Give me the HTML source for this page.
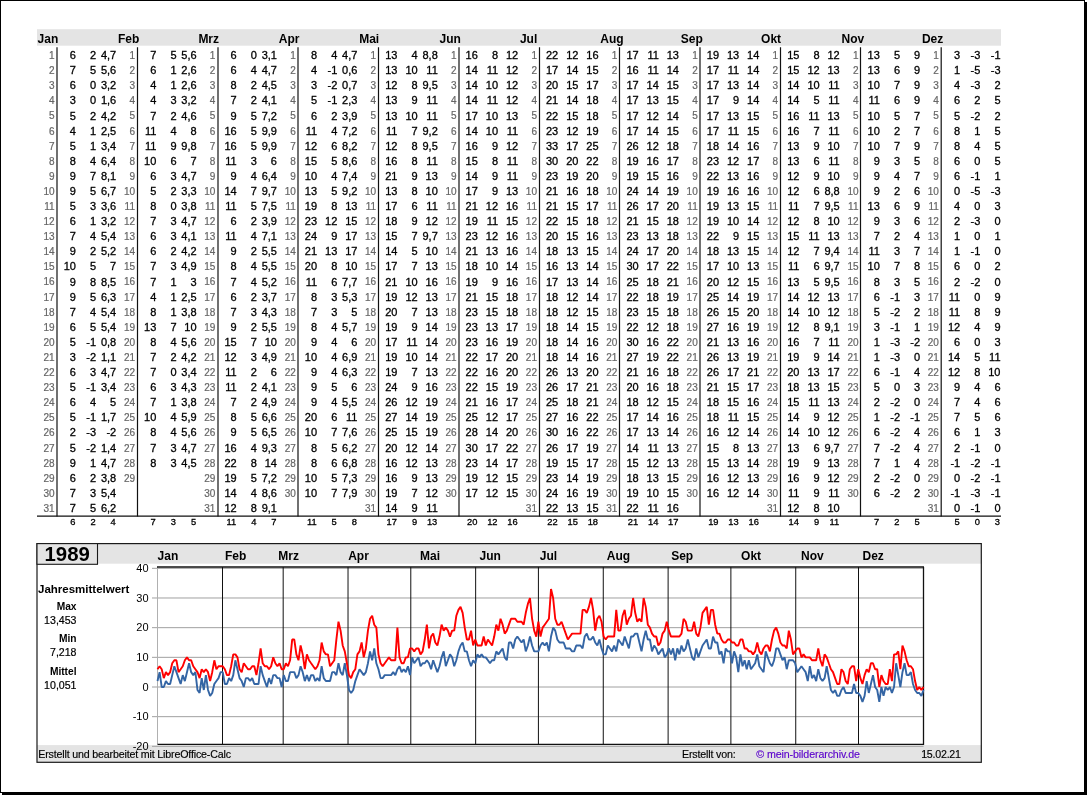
<!DOCTYPE html>
<html><head><meta charset="utf-8"><title>1989</title>
<style>
html,body{margin:0;padding:0;background:#fff;}
body{width:1087px;height:795px;overflow:hidden;position:relative;font-family:"Liberation Sans", Arial, sans-serif;color:#000;}
#frame{position:absolute;left:0;top:0;width:1085px;height:793px;box-sizing:border-box;border:1px solid #000;box-shadow:2px 2px 0 #000;background:#fff;}
.ov{position:absolute;left:0;top:0;}
.t{position:absolute;white-space:nowrap;}
.c{position:absolute;white-space:nowrap;text-align:right;line-height:15.09px;-webkit-text-stroke:0.3px #000;}
.d{-webkit-text-stroke:0.2px #666;}
</style></head><body>
<div id="frame"></div>
<svg class="ov" width="1087" height="795" viewBox="0 0 1087 795"><rect x="37.00" y="29.20" width="964.00" height="16.50" fill="#e4e4e4"/><line x1="57.00" y1="47.30" x2="57.00" y2="516.50" stroke="#111" stroke-width="1.2"/><line x1="137.50" y1="47.30" x2="137.50" y2="516.50" stroke="#111" stroke-width="1.2"/><line x1="218.00" y1="47.30" x2="218.00" y2="516.50" stroke="#111" stroke-width="1.2"/><line x1="298.00" y1="47.30" x2="298.00" y2="516.50" stroke="#111" stroke-width="1.2"/><line x1="378.50" y1="47.30" x2="378.50" y2="516.50" stroke="#111" stroke-width="1.2"/><line x1="459.00" y1="47.30" x2="459.00" y2="516.50" stroke="#111" stroke-width="1.2"/><line x1="539.50" y1="47.30" x2="539.50" y2="516.50" stroke="#111" stroke-width="1.2"/><line x1="619.50" y1="47.30" x2="619.50" y2="516.50" stroke="#111" stroke-width="1.2"/><line x1="700.00" y1="47.30" x2="700.00" y2="516.50" stroke="#111" stroke-width="1.2"/><line x1="780.50" y1="47.30" x2="780.50" y2="516.50" stroke="#111" stroke-width="1.2"/><line x1="860.50" y1="47.30" x2="860.50" y2="516.50" stroke="#111" stroke-width="1.2"/><line x1="941.20" y1="47.30" x2="941.20" y2="516.50" stroke="#111" stroke-width="1.2"/><line x1="37.00" y1="516.00" x2="1001.00" y2="516.00" stroke="#111" stroke-width="1.25"/><rect x="37.00" y="543.60" width="944.30" height="218.70" fill="#fff"/><rect x="37.00" y="543.60" width="944.30" height="20.10" fill="#e4e4e4"/><rect x="37.00" y="745.10" width="944.30" height="17.20" fill="#e4e4e4"/><line x1="152.00" y1="568.32" x2="923.50" y2="568.32" stroke="#a0a0a0" stroke-width="1.0"/><line x1="152.00" y1="597.99" x2="923.50" y2="597.99" stroke="#a0a0a0" stroke-width="1.0"/><line x1="152.00" y1="627.66" x2="923.50" y2="627.66" stroke="#a0a0a0" stroke-width="1.0"/><line x1="152.00" y1="657.33" x2="923.50" y2="657.33" stroke="#a0a0a0" stroke-width="1.0"/><line x1="152.00" y1="687.00" x2="923.50" y2="687.00" stroke="#a0a0a0" stroke-width="1.0"/><line x1="152.00" y1="716.67" x2="923.50" y2="716.67" stroke="#a0a0a0" stroke-width="1.0"/><line x1="152.00" y1="746.34" x2="923.50" y2="746.34" stroke="#a0a0a0" stroke-width="1.0"/><line x1="222.51" y1="567.00" x2="222.51" y2="744.30" stroke="#111" stroke-width="1"/><line x1="283.18" y1="567.00" x2="283.18" y2="744.30" stroke="#111" stroke-width="1"/><line x1="348.03" y1="567.00" x2="348.03" y2="744.30" stroke="#111" stroke-width="1"/><line x1="410.79" y1="567.00" x2="410.79" y2="744.30" stroke="#111" stroke-width="1"/><line x1="475.65" y1="567.00" x2="475.65" y2="744.30" stroke="#111" stroke-width="1"/><line x1="538.41" y1="567.00" x2="538.41" y2="744.30" stroke="#111" stroke-width="1"/><line x1="603.27" y1="567.00" x2="603.27" y2="744.30" stroke="#111" stroke-width="1"/><line x1="668.12" y1="567.00" x2="668.12" y2="744.30" stroke="#111" stroke-width="1"/><line x1="730.89" y1="567.00" x2="730.89" y2="744.30" stroke="#111" stroke-width="1"/><line x1="795.74" y1="567.00" x2="795.74" y2="744.30" stroke="#111" stroke-width="1"/><line x1="858.50" y1="567.00" x2="858.50" y2="744.30" stroke="#111" stroke-width="1"/><line x1="157.50" y1="567.00" x2="157.50" y2="744.30" stroke="#b0b0b0" stroke-width="1"/><line x1="157.00" y1="567.00" x2="924.00" y2="567.00" stroke="#111" stroke-width="1.3"/><line x1="923.50" y1="567.00" x2="923.50" y2="744.90" stroke="#111" stroke-width="1.3"/><line x1="157.50" y1="744.30" x2="924.00" y2="744.30" stroke="#111" stroke-width="1.3"/><polyline points="157.50,681.07 159.60,672.16 161.71,687.00 163.81,687.00 165.92,681.07 168.02,684.03 170.13,684.03 172.23,675.13 174.34,666.23 176.44,672.16 178.54,678.10 180.65,684.03 182.75,675.13 184.86,681.07 186.96,672.16 189.07,663.26 191.17,672.16 193.27,675.13 195.38,672.16 197.48,689.97 199.59,692.93 201.69,678.10 203.80,689.97 205.90,675.13 208.01,689.97 210.11,695.90 212.21,692.93 214.32,684.03 216.42,681.07 218.53,678.10 220.63,672.16 222.74,672.16 224.84,684.03 226.95,684.03 229.05,678.10 231.15,681.07 233.26,675.13 235.36,660.30 237.47,669.20 239.57,678.10 241.68,681.07 243.78,687.00 245.88,678.10 247.99,678.10 250.09,681.07 252.20,678.10 254.30,684.03 256.41,684.03 258.51,684.03 260.62,666.23 262.72,675.13 264.82,681.07 266.93,687.00 269.03,678.10 271.14,684.03 273.24,675.13 275.35,675.13 277.45,678.10 279.55,678.10 281.66,687.00 283.76,675.13 285.87,681.07 287.97,681.07 290.08,672.16 292.18,672.16 294.29,672.16 296.39,678.10 298.49,675.13 300.60,666.23 302.70,672.16 304.81,681.07 306.91,675.13 309.02,681.07 311.12,675.13 313.23,675.13 315.33,681.07 317.43,678.10 319.54,681.07 321.64,666.23 323.75,678.10 325.85,681.07 327.96,681.07 330.06,681.07 332.16,672.16 334.27,672.16 336.37,675.13 338.48,663.26 340.58,672.16 342.69,675.13 344.79,663.26 346.90,675.13 349.00,689.97 351.10,692.93 353.21,689.97 355.31,681.07 357.42,675.13 359.52,669.20 361.63,672.16 363.73,675.13 365.84,672.16 367.94,663.26 370.04,651.40 372.15,660.30 374.25,648.43 376.36,663.26 378.46,669.20 380.57,678.10 382.67,678.10 384.77,675.13 386.88,675.13 388.98,675.13 391.09,675.13 393.19,672.16 395.30,675.13 397.40,669.20 399.51,666.23 401.61,672.16 403.71,669.20 405.82,672.16 407.92,666.23 410.03,675.13 412.13,657.33 414.24,663.26 416.34,660.30 418.45,657.33 420.55,666.23 422.65,663.26 424.76,663.26 426.86,660.30 428.97,663.26 431.07,669.20 433.18,660.30 435.28,666.23 437.38,672.16 439.49,666.23 441.59,657.33 443.70,651.40 445.80,666.23 447.91,660.30 450.01,654.36 452.12,657.33 454.22,666.23 456.32,660.30 458.43,651.40 460.53,645.46 462.64,642.50 464.74,651.40 466.85,651.40 468.95,660.30 471.05,666.23 473.16,660.30 475.26,663.26 477.37,654.36 479.47,657.33 481.58,654.36 483.68,657.33 485.79,657.33 487.89,660.30 489.99,663.26 492.10,660.30 494.20,660.30 496.31,651.40 498.41,654.36 500.52,651.40 502.62,648.43 504.73,657.33 506.83,660.30 508.93,642.50 511.04,642.50 513.14,648.43 515.25,639.53 517.35,636.56 519.46,639.53 521.56,642.50 523.66,639.53 525.77,651.40 527.87,645.46 529.98,636.56 532.08,645.46 534.19,651.40 536.29,651.40 538.40,651.40 540.50,645.46 542.60,642.50 544.71,645.46 546.81,642.50 548.92,651.40 551.02,636.56 553.13,627.66 555.23,630.63 557.34,639.53 559.44,642.50 561.54,642.50 563.65,642.50 565.75,648.43 567.86,648.43 569.96,648.43 572.07,651.40 574.17,651.40 576.27,645.46 578.38,645.46 580.48,645.46 582.59,648.43 584.69,636.56 586.80,633.59 588.90,639.53 591.01,639.53 593.11,636.56 595.21,642.50 597.32,645.46 599.42,639.53 601.53,648.43 603.63,654.36 605.74,654.36 607.84,645.46 609.95,648.43 612.05,651.40 614.15,645.46 616.26,651.40 618.36,639.53 620.47,642.50 622.57,645.46 624.68,636.56 626.78,642.50 628.88,648.43 630.99,636.56 633.09,636.56 635.20,633.59 637.30,633.59 639.41,642.50 641.51,651.40 643.62,639.53 645.72,630.63 647.82,639.53 649.93,639.53 652.03,651.40 654.14,645.46 656.24,648.43 658.35,654.36 660.45,651.40 662.55,648.43 664.66,657.33 666.76,654.36 668.87,648.43 670.97,654.36 673.08,648.43 675.18,660.30 677.29,648.43 679.39,654.36 681.49,645.46 683.60,651.40 685.70,648.43 687.81,639.53 689.91,648.43 692.02,657.33 694.12,660.30 696.23,648.43 698.33,657.33 700.43,651.40 702.54,645.46 704.64,642.50 706.75,639.53 708.85,648.43 710.96,648.43 713.06,636.56 715.16,642.50 717.27,642.50 719.37,654.36 721.48,651.40 723.58,663.26 725.69,648.43 727.79,651.40 729.90,651.40 732.00,663.26 734.10,651.40 736.21,657.33 738.31,672.16 740.42,654.36 742.52,666.23 744.63,660.30 746.73,669.20 748.84,660.30 750.94,669.20 753.04,666.23 755.15,663.26 757.25,654.36 759.36,666.23 761.46,669.20 763.57,672.16 765.67,651.40 767.77,657.33 769.88,663.26 771.98,666.23 774.09,660.30 776.19,648.43 778.30,648.43 780.40,654.36 782.51,660.30 784.61,657.33 786.71,669.20 788.82,660.30 790.92,660.30 793.03,660.30 795.13,663.26 797.24,672.16 799.34,669.20 801.45,666.23 803.55,669.20 805.65,672.16 807.76,681.07 809.86,666.23 811.97,678.10 814.07,675.13 816.18,681.07 818.28,669.20 820.38,678.10 822.49,681.07 824.59,678.10 826.70,666.23 828.80,678.10 830.91,689.97 833.01,692.93 835.12,689.97 837.22,695.90 839.32,695.90 841.43,689.97 843.53,687.00 845.64,692.93 847.74,692.93 849.85,692.93 851.95,692.93 854.05,684.03 856.16,692.93 858.26,692.93 860.37,695.90 862.47,701.84 864.58,695.90 866.68,681.07 868.79,692.93 870.89,684.03 872.99,675.13 875.10,687.00 877.20,689.97 879.31,701.84 881.41,687.00 883.52,695.90 885.62,687.00 887.73,689.97 889.83,687.00 891.93,692.93 894.04,687.00 896.14,663.26 898.25,675.13 900.35,687.00 902.46,672.16 904.56,663.26 906.66,675.13 908.77,675.13 910.87,672.16 912.98,684.03 915.08,689.97 917.19,692.93 919.29,692.93 921.40,695.90 923.50,689.97" fill="none" stroke="#3465a4" stroke-width="1.9" stroke-linejoin="bevel"/><polyline points="157.50,669.20 159.60,666.23 161.71,669.20 163.81,678.10 165.92,672.16 168.02,675.13 170.13,672.16 172.23,663.26 174.34,660.30 176.44,660.30 178.54,672.16 180.65,669.20 182.75,666.23 184.86,660.30 186.96,657.33 189.07,660.30 191.17,660.30 193.27,666.23 195.38,669.20 197.48,672.16 199.59,678.10 201.69,669.20 203.80,672.16 205.90,669.20 208.01,672.16 210.11,681.07 212.21,672.16 214.32,660.30 216.42,669.20 218.53,666.23 220.63,666.23 222.74,666.23 224.84,669.20 226.95,675.13 229.05,675.13 231.15,666.23 233.26,654.36 235.36,654.36 237.47,657.33 239.57,669.20 241.68,672.16 243.78,663.26 245.88,666.23 247.99,669.20 250.09,669.20 252.20,666.23 254.30,666.23 256.41,675.13 258.51,663.26 260.62,648.43 262.72,663.26 264.82,666.23 266.93,666.23 269.03,669.20 271.14,666.23 273.24,657.33 275.35,663.26 277.45,666.23 279.55,663.26 281.66,669.20 283.76,669.20 285.87,663.26 287.97,666.23 290.08,660.30 292.18,639.53 294.29,639.53 296.39,654.36 298.49,660.30 300.60,645.46 302.70,654.36 304.81,669.20 306.91,654.36 309.02,660.30 311.12,663.26 313.23,666.23 315.33,669.20 317.43,666.23 319.54,660.30 321.64,642.50 323.75,651.40 325.85,654.36 327.96,654.36 330.06,666.23 332.16,663.26 334.27,660.30 336.37,639.53 338.48,621.73 340.58,630.63 342.69,645.46 344.79,651.40 346.90,663.26 349.00,675.13 351.10,678.10 353.21,672.16 355.31,669.20 357.42,654.36 359.52,651.40 361.63,642.50 363.73,657.33 365.84,648.43 367.94,630.63 370.04,618.76 372.15,615.79 374.25,624.69 376.36,627.66 378.46,654.36 380.57,663.26 382.67,666.23 384.77,663.26 386.88,660.30 388.98,657.33 391.09,660.30 393.19,660.30 395.30,660.30 397.40,627.66 399.51,657.33 401.61,663.26 403.71,663.26 405.82,657.33 407.92,657.33 410.03,648.43 412.13,648.43 414.24,651.40 416.34,648.43 418.45,648.43 420.55,654.36 422.65,651.40 424.76,639.53 426.86,624.69 428.97,648.43 431.07,636.56 433.18,633.59 435.28,642.50 437.38,645.46 439.49,636.56 441.59,624.69 443.70,630.63 445.80,627.66 447.91,630.63 450.01,636.56 452.12,630.63 454.22,630.63 456.32,615.79 458.43,609.86 460.53,606.89 462.64,612.83 464.74,627.66 466.85,639.53 468.95,639.53 471.05,630.63 473.16,645.46 475.26,639.53 477.37,645.46 479.47,645.46 481.58,645.46 483.68,636.56 485.79,645.46 487.89,639.53 489.99,642.50 492.10,645.46 494.20,636.56 496.31,624.69 498.41,630.63 500.52,618.76 502.62,624.69 504.73,633.59 506.83,630.63 508.93,624.69 511.04,618.76 513.14,618.76 515.25,618.76 517.35,621.73 519.46,621.73 521.56,621.73 523.66,624.69 525.77,612.83 527.87,603.92 529.98,597.99 532.08,618.76 534.19,630.63 536.29,636.56 538.40,621.73 540.50,636.56 542.60,627.66 544.71,624.69 546.81,621.73 548.92,618.76 551.02,589.09 553.13,597.99 555.23,618.76 557.34,624.69 559.44,624.69 561.54,621.73 563.65,627.66 565.75,633.59 567.86,639.53 569.96,636.56 572.07,633.59 574.17,633.59 576.27,633.59 578.38,633.59 580.48,633.59 582.59,609.86 584.69,609.86 586.80,612.83 588.90,606.89 591.01,597.99 593.11,609.86 595.21,630.63 597.32,618.76 599.42,615.79 601.53,621.73 603.63,636.56 605.74,639.53 607.84,636.56 609.95,636.56 612.05,636.56 614.15,636.56 616.26,609.86 618.36,630.63 620.47,630.63 622.57,615.79 624.68,609.86 626.78,624.69 628.88,618.76 630.99,615.79 633.09,597.99 635.20,612.83 637.30,621.73 639.41,618.76 641.51,621.73 643.62,597.99 645.72,606.89 647.82,624.69 649.93,627.66 652.03,633.59 654.14,636.56 656.24,636.56 658.35,645.46 660.45,642.50 662.55,633.59 664.66,630.63 666.76,621.73 668.87,630.63 670.97,636.56 673.08,636.56 675.18,636.56 677.29,636.56 679.39,636.56 681.49,633.59 683.60,618.76 685.70,621.73 687.81,630.63 689.91,630.63 692.02,630.63 694.12,621.73 696.23,633.59 698.33,636.56 700.43,627.66 702.54,612.83 704.64,609.86 706.75,606.89 708.85,624.69 710.96,609.86 713.06,609.86 715.16,624.69 717.27,633.59 719.37,633.59 721.48,639.53 723.58,642.50 725.69,642.50 727.79,639.53 729.90,639.53 732.00,642.50 734.10,642.50 736.21,645.46 738.31,645.46 740.42,639.53 742.52,639.53 744.63,648.43 746.73,648.43 748.84,651.40 750.94,651.40 753.04,654.36 755.15,651.40 757.25,642.50 759.36,651.40 761.46,654.36 763.57,648.43 765.67,645.46 767.77,645.46 769.88,651.40 771.98,639.53 774.09,630.63 776.19,627.66 778.30,633.59 780.40,642.50 782.51,645.46 784.61,645.46 786.71,648.43 788.82,630.63 790.92,639.53 793.03,654.36 795.13,651.40 797.24,648.43 799.34,648.43 801.45,657.33 803.55,654.36 805.65,657.33 807.76,657.33 809.86,657.33 811.97,660.30 814.07,660.30 816.18,660.30 818.28,648.43 820.38,660.30 822.49,666.23 824.59,654.36 826.70,657.33 828.80,663.26 830.91,669.20 833.01,672.16 835.12,678.10 837.22,684.03 839.32,684.03 841.43,669.20 843.53,672.16 845.64,681.07 847.74,684.03 849.85,669.20 851.95,666.23 854.05,666.23 856.16,681.07 858.26,669.20 860.37,678.10 862.47,684.03 864.58,675.13 866.68,669.20 868.79,672.16 870.89,663.26 872.99,663.26 875.10,669.20 877.20,669.20 879.31,687.00 881.41,675.13 883.52,681.07 885.62,684.03 887.73,684.03 889.83,669.20 891.93,681.07 894.04,654.36 896.14,654.36 898.25,651.40 900.35,669.20 902.46,645.46 904.56,651.40 906.66,660.30 908.77,666.23 910.87,666.23 912.98,669.20 915.08,681.07 917.19,689.97 919.29,687.00 921.40,689.97 923.50,687.00" fill="none" stroke="#ff0000" stroke-width="1.9" stroke-linejoin="bevel"/><rect x="37.00" y="543.60" width="944.30" height="218.70" fill="none" stroke="#1a1a1a" stroke-width="1.2"/><rect x="37.00" y="543.60" width="60.50" height="20.70" fill="#e4e4e4" stroke="#1a1a1a" stroke-width="1.1"/></svg>
<div class="t" style="top:32.44px;left:37.60px;font-size:12px;line-height:14.4px;font-weight:bold">Jan</div><div class="c d" style="top:48.09px;right:1032.40px;font-size:10px;color:#666">1<br>2<br>3<br>4<br>5<br>6<br>7<br>8<br>9<br>10<br>11<br>12<br>13<br>14<br>15<br>16<br>17<br>18<br>19<br>20<br>21<br>22<br>23<br>24<br>25<br>26<br>27<br>28<br>29<br>30<br>31</div><div class="c" style="top:48.14px;right:1011.10px;font-size:11px">6<br>7<br>6<br>3<br>5<br>4<br>5<br>8<br>9<br>9<br>5<br>6<br>7<br>9<br>10<br>9<br>9<br>7<br>6<br>5<br>3<br>6<br>5<br>6<br>5<br>2<br>5<br>9<br>6<br>7<br>7</div><div class="c" style="top:48.14px;right:990.90px;font-size:11px">2<br>5<br>0<br>0<br>2<br>1<br>1<br>4<br>7<br>5<br>3<br>1<br>4<br>2<br>5<br>8<br>5<br>4<br>5<br>-1<br>-2<br>3<br>-1<br>4<br>-1<br>-3<br>-2<br>1<br>2<br>3<br>5</div><div class="c" style="top:48.14px;right:970.80px;font-size:11px">4,7<br>5,6<br>3,2<br>1,6<br>4,2<br>2,5<br>3,4<br>6,4<br>8,1<br>6,7<br>3,6<br>3,2<br>5,4<br>5,2<br>7<br>8,5<br>6,3<br>5,4<br>5,4<br>0,8<br>1,1<br>4,7<br>3,4<br>5<br>1,7<br>-2<br>1,4<br>4,7<br>3,8<br>5,4<br>6,2</div><div class="t" style="top:517.37px;right:1011.60px;font-size:9.33px;line-height:11.196px;-webkit-text-stroke:0.3px #000">6</div><div class="t" style="top:517.37px;right:991.40px;font-size:9.33px;line-height:11.196px;-webkit-text-stroke:0.3px #000">2</div><div class="t" style="top:517.37px;right:971.30px;font-size:9.33px;line-height:11.196px;-webkit-text-stroke:0.3px #000">4</div><div class="t" style="top:32.44px;left:117.99px;font-size:12px;line-height:14.4px;font-weight:bold">Feb</div><div class="c d" style="top:48.09px;right:952.01px;font-size:10px;color:#666">1<br>2<br>3<br>4<br>5<br>6<br>7<br>8<br>9<br>10<br>11<br>12<br>13<br>14<br>15<br>16<br>17<br>18<br>19<br>20<br>21<br>22<br>23<br>24<br>25<br>26<br>27<br>28<br>29</div><div class="c" style="top:48.14px;right:930.71px;font-size:11px">7<br>6<br>4<br>4<br>7<br>11<br>11<br>10<br>6<br>5<br>8<br>7<br>6<br>6<br>7<br>7<br>4<br>8<br>13<br>8<br>7<br>7<br>6<br>7<br>10<br>8<br>7<br>8</div><div class="c" style="top:48.14px;right:910.51px;font-size:11px">5<br>1<br>1<br>3<br>2<br>4<br>9<br>6<br>3<br>2<br>0<br>3<br>3<br>2<br>3<br>1<br>1<br>1<br>7<br>4<br>2<br>0<br>3<br>1<br>4<br>4<br>3<br>3</div><div class="c" style="top:48.14px;right:890.41px;font-size:11px">5,6<br>2,6<br>2,6<br>3,2<br>4,6<br>8<br>9,8<br>7<br>4,7<br>3,3<br>3,8<br>4,7<br>4,1<br>4,2<br>4,9<br>3<br>2,5<br>3,8<br>10<br>5,6<br>4,2<br>3,4<br>4,3<br>3,8<br>5,9<br>5,6<br>4,7<br>4,5</div><div class="t" style="top:517.37px;right:931.21px;font-size:9.33px;line-height:11.196px;-webkit-text-stroke:0.3px #000">7</div><div class="t" style="top:517.37px;right:911.01px;font-size:9.33px;line-height:11.196px;-webkit-text-stroke:0.3px #000">3</div><div class="t" style="top:517.37px;right:890.91px;font-size:9.33px;line-height:11.196px;-webkit-text-stroke:0.3px #000">5</div><div class="t" style="top:32.44px;left:198.38px;font-size:12px;line-height:14.4px;font-weight:bold">Mrz</div><div class="c d" style="top:48.09px;right:871.62px;font-size:10px;color:#666">1<br>2<br>3<br>4<br>5<br>6<br>7<br>8<br>9<br>10<br>11<br>12<br>13<br>14<br>15<br>16<br>17<br>18<br>19<br>20<br>21<br>22<br>23<br>24<br>25<br>26<br>27<br>28<br>29<br>30<br>31</div><div class="c" style="top:48.14px;right:850.32px;font-size:11px">6<br>6<br>8<br>7<br>9<br>16<br>16<br>11<br>9<br>14<br>11<br>6<br>11<br>9<br>8<br>7<br>6<br>7<br>9<br>15<br>12<br>11<br>11<br>7<br>8<br>9<br>16<br>22<br>19<br>14<br>12</div><div class="c" style="top:48.14px;right:830.12px;font-size:11px">0<br>4<br>2<br>2<br>5<br>5<br>5<br>3<br>4<br>7<br>5<br>2<br>4<br>2<br>4<br>4<br>2<br>3<br>2<br>7<br>3<br>2<br>2<br>2<br>5<br>5<br>4<br>8<br>5<br>4<br>8</div><div class="c" style="top:48.14px;right:810.02px;font-size:11px">3,1<br>4,7<br>4,5<br>4,1<br>7,2<br>9,9<br>9,9<br>6<br>6,4<br>9,7<br>7,5<br>3,9<br>7,1<br>5,5<br>5,5<br>5,2<br>3,7<br>4,3<br>5,5<br>10<br>4,9<br>6<br>4,1<br>4,9<br>6,6<br>6,5<br>9,3<br>14<br>7,2<br>8,6<br>9,1</div><div class="t" style="top:517.37px;right:850.82px;font-size:9.33px;line-height:11.196px;-webkit-text-stroke:0.3px #000">11</div><div class="t" style="top:517.37px;right:830.62px;font-size:9.33px;line-height:11.196px;-webkit-text-stroke:0.3px #000">4</div><div class="t" style="top:517.37px;right:810.52px;font-size:9.33px;line-height:11.196px;-webkit-text-stroke:0.3px #000">7</div><div class="t" style="top:32.44px;left:278.77px;font-size:12px;line-height:14.4px;font-weight:bold">Apr</div><div class="c d" style="top:48.09px;right:791.23px;font-size:10px;color:#666">1<br>2<br>3<br>4<br>5<br>6<br>7<br>8<br>9<br>10<br>11<br>12<br>13<br>14<br>15<br>16<br>17<br>18<br>19<br>20<br>21<br>22<br>23<br>24<br>25<br>26<br>27<br>28<br>29<br>30</div><div class="c" style="top:48.14px;right:769.93px;font-size:11px">8<br>4<br>3<br>5<br>6<br>11<br>12<br>15<br>10<br>13<br>19<br>23<br>24<br>21<br>20<br>11<br>8<br>7<br>8<br>9<br>10<br>9<br>9<br>9<br>20<br>10<br>8<br>8<br>10<br>10</div><div class="c" style="top:48.14px;right:749.73px;font-size:11px">4<br>-1<br>-2<br>-1<br>2<br>4<br>6<br>5<br>4<br>5<br>8<br>12<br>9<br>13<br>8<br>6<br>3<br>3<br>4<br>4<br>4<br>4<br>5<br>4<br>6<br>7<br>5<br>6<br>5<br>7</div><div class="c" style="top:48.14px;right:729.63px;font-size:11px">4,7<br>0,6<br>0,7<br>2,3<br>3,9<br>7,2<br>8,2<br>8,6<br>7,4<br>9,2<br>13<br>15<br>17<br>17<br>10<br>7,7<br>5,3<br>5<br>5,7<br>6<br>6,9<br>6,3<br>6<br>5,5<br>11<br>7,6<br>6,2<br>6,8<br>7,3<br>7,9</div><div class="t" style="top:517.37px;right:770.43px;font-size:9.33px;line-height:11.196px;-webkit-text-stroke:0.3px #000">11</div><div class="t" style="top:517.37px;right:750.23px;font-size:9.33px;line-height:11.196px;-webkit-text-stroke:0.3px #000">5</div><div class="t" style="top:517.37px;right:730.13px;font-size:9.33px;line-height:11.196px;-webkit-text-stroke:0.3px #000">8</div><div class="t" style="top:32.44px;left:359.16px;font-size:12px;line-height:14.4px;font-weight:bold">Mai</div><div class="c d" style="top:48.09px;right:710.84px;font-size:10px;color:#666">1<br>2<br>3<br>4<br>5<br>6<br>7<br>8<br>9<br>10<br>11<br>12<br>13<br>14<br>15<br>16<br>17<br>18<br>19<br>20<br>21<br>22<br>23<br>24<br>25<br>26<br>27<br>28<br>29<br>30<br>31</div><div class="c" style="top:48.14px;right:689.54px;font-size:11px">13<br>13<br>12<br>13<br>13<br>11<br>12<br>16<br>21<br>13<br>17<br>18<br>15<br>14<br>17<br>21<br>19<br>20<br>19<br>17<br>19<br>19<br>24<br>26<br>27<br>25<br>20<br>16<br>16<br>19<br>14</div><div class="c" style="top:48.14px;right:669.34px;font-size:11px">4<br>10<br>8<br>9<br>10<br>7<br>8<br>8<br>9<br>8<br>6<br>9<br>7<br>5<br>7<br>10<br>12<br>7<br>9<br>11<br>10<br>7<br>9<br>12<br>14<br>15<br>12<br>12<br>9<br>7<br>9</div><div class="c" style="top:48.14px;right:649.24px;font-size:11px">8,8<br>11<br>9,5<br>11<br>11<br>9,2<br>9,5<br>11<br>13<br>10<br>11<br>12<br>9,7<br>10<br>13<br>16<br>13<br>13<br>14<br>14<br>14<br>13<br>16<br>19<br>19<br>19<br>14<br>13<br>13<br>12<br>11</div><div class="t" style="top:517.37px;right:690.04px;font-size:9.33px;line-height:11.196px;-webkit-text-stroke:0.3px #000">17</div><div class="t" style="top:517.37px;right:669.84px;font-size:9.33px;line-height:11.196px;-webkit-text-stroke:0.3px #000">9</div><div class="t" style="top:517.37px;right:649.74px;font-size:9.33px;line-height:11.196px;-webkit-text-stroke:0.3px #000">13</div><div class="t" style="top:32.44px;left:439.55px;font-size:12px;line-height:14.4px;font-weight:bold">Jun</div><div class="c d" style="top:48.09px;right:630.45px;font-size:10px;color:#666">1<br>2<br>3<br>4<br>5<br>6<br>7<br>8<br>9<br>10<br>11<br>12<br>13<br>14<br>15<br>16<br>17<br>18<br>19<br>20<br>21<br>22<br>23<br>24<br>25<br>26<br>27<br>28<br>29<br>30</div><div class="c" style="top:48.14px;right:609.15px;font-size:11px">16<br>14<br>14<br>14<br>17<br>14<br>16<br>15<br>14<br>17<br>21<br>19<br>23<br>21<br>18<br>19<br>21<br>23<br>23<br>23<br>22<br>22<br>22<br>21<br>25<br>28<br>30<br>23<br>19<br>17</div><div class="c" style="top:48.14px;right:588.95px;font-size:11px">8<br>11<br>10<br>11<br>10<br>10<br>9<br>8<br>9<br>9<br>12<br>11<br>12<br>13<br>10<br>9<br>15<br>15<br>13<br>16<br>17<br>16<br>15<br>16<br>12<br>14<br>17<br>14<br>12<br>12</div><div class="c" style="top:48.14px;right:568.85px;font-size:11px">12<br>12<br>12<br>12<br>13<br>11<br>12<br>11<br>11<br>13<br>16<br>15<br>16<br>16<br>14<br>16<br>18<br>18<br>17<br>19<br>20<br>20<br>19<br>17<br>17<br>20<br>22<br>17<br>15<br>15</div><div class="t" style="top:517.37px;right:609.65px;font-size:9.33px;line-height:11.196px;-webkit-text-stroke:0.3px #000">20</div><div class="t" style="top:517.37px;right:589.45px;font-size:9.33px;line-height:11.196px;-webkit-text-stroke:0.3px #000">12</div><div class="t" style="top:517.37px;right:569.35px;font-size:9.33px;line-height:11.196px;-webkit-text-stroke:0.3px #000">16</div><div class="t" style="top:32.44px;left:519.94px;font-size:12px;line-height:14.4px;font-weight:bold">Jul</div><div class="c d" style="top:48.09px;right:550.06px;font-size:10px;color:#666">1<br>2<br>3<br>4<br>5<br>6<br>7<br>8<br>9<br>10<br>11<br>12<br>13<br>14<br>15<br>16<br>17<br>18<br>19<br>20<br>21<br>22<br>23<br>24<br>25<br>26<br>27<br>28<br>29<br>30<br>31</div><div class="c" style="top:48.14px;right:528.76px;font-size:11px">22<br>17<br>20<br>21<br>22<br>23<br>33<br>30<br>23<br>21<br>21<br>22<br>20<br>18<br>16<br>17<br>18<br>18<br>18<br>18<br>18<br>26<br>26<br>25<br>27<br>30<br>26<br>19<br>23<br>24<br>22</div><div class="c" style="top:48.14px;right:508.56px;font-size:11px">12<br>14<br>15<br>14<br>15<br>12<br>17<br>20<br>19<br>16<br>15<br>15<br>15<br>13<br>13<br>13<br>12<br>12<br>14<br>14<br>14<br>13<br>17<br>18<br>16<br>16<br>17<br>15<br>14<br>16<br>13</div><div class="c" style="top:48.14px;right:488.46px;font-size:11px">16<br>15<br>17<br>18<br>18<br>19<br>25<br>22<br>20<br>18<br>17<br>18<br>16<br>15<br>14<br>14<br>14<br>15<br>15<br>16<br>16<br>20<br>21<br>21<br>22<br>22<br>19<br>17<br>19<br>19<br>15</div><div class="t" style="top:517.37px;right:529.26px;font-size:9.33px;line-height:11.196px;-webkit-text-stroke:0.3px #000">22</div><div class="t" style="top:517.37px;right:509.06px;font-size:9.33px;line-height:11.196px;-webkit-text-stroke:0.3px #000">15</div><div class="t" style="top:517.37px;right:488.96px;font-size:9.33px;line-height:11.196px;-webkit-text-stroke:0.3px #000">18</div><div class="t" style="top:32.44px;left:600.33px;font-size:12px;line-height:14.4px;font-weight:bold">Aug</div><div class="c d" style="top:48.09px;right:469.67px;font-size:10px;color:#666">1<br>2<br>3<br>4<br>5<br>6<br>7<br>8<br>9<br>10<br>11<br>12<br>13<br>14<br>15<br>16<br>17<br>18<br>19<br>20<br>21<br>22<br>23<br>24<br>25<br>26<br>27<br>28<br>29<br>30<br>31</div><div class="c" style="top:48.14px;right:448.37px;font-size:11px">17<br>16<br>17<br>17<br>17<br>17<br>26<br>19<br>19<br>24<br>26<br>21<br>23<br>24<br>30<br>25<br>22<br>23<br>22<br>30<br>27<br>21<br>20<br>18<br>17<br>17<br>14<br>15<br>18<br>19<br>22</div><div class="c" style="top:48.14px;right:428.17px;font-size:11px">11<br>11<br>14<br>13<br>12<br>14<br>12<br>16<br>15<br>14<br>17<br>15<br>13<br>17<br>17<br>18<br>18<br>15<br>12<br>16<br>19<br>16<br>16<br>12<br>14<br>13<br>11<br>12<br>13<br>10<br>11</div><div class="c" style="top:48.14px;right:408.07px;font-size:11px">13<br>14<br>15<br>15<br>14<br>15<br>18<br>17<br>16<br>19<br>20<br>18<br>18<br>20<br>22<br>21<br>19<br>18<br>18<br>22<br>22<br>18<br>18<br>15<br>16<br>14<br>13<br>13<br>15<br>15<br>16</div><div class="t" style="top:517.37px;right:448.87px;font-size:9.33px;line-height:11.196px;-webkit-text-stroke:0.3px #000">21</div><div class="t" style="top:517.37px;right:428.67px;font-size:9.33px;line-height:11.196px;-webkit-text-stroke:0.3px #000">14</div><div class="t" style="top:517.37px;right:408.57px;font-size:9.33px;line-height:11.196px;-webkit-text-stroke:0.3px #000">17</div><div class="t" style="top:32.44px;left:680.72px;font-size:12px;line-height:14.4px;font-weight:bold">Sep</div><div class="c d" style="top:48.09px;right:389.28px;font-size:10px;color:#666">1<br>2<br>3<br>4<br>5<br>6<br>7<br>8<br>9<br>10<br>11<br>12<br>13<br>14<br>15<br>16<br>17<br>18<br>19<br>20<br>21<br>22<br>23<br>24<br>25<br>26<br>27<br>28<br>29<br>30</div><div class="c" style="top:48.14px;right:367.98px;font-size:11px">19<br>17<br>17<br>17<br>17<br>17<br>18<br>23<br>22<br>19<br>19<br>19<br>22<br>18<br>17<br>20<br>25<br>26<br>27<br>21<br>26<br>26<br>21<br>18<br>18<br>16<br>15<br>15<br>16<br>16</div><div class="c" style="top:48.14px;right:347.78px;font-size:11px">13<br>11<br>13<br>9<br>13<br>11<br>14<br>12<br>13<br>16<br>13<br>10<br>9<br>13<br>10<br>12<br>14<br>15<br>16<br>13<br>13<br>17<br>15<br>15<br>11<br>12<br>8<br>13<br>12<br>12</div><div class="c" style="top:48.14px;right:327.68px;font-size:11px">14<br>14<br>14<br>14<br>15<br>15<br>16<br>17<br>16<br>16<br>15<br>14<br>15<br>15<br>13<br>15<br>19<br>20<br>19<br>16<br>19<br>21<br>17<br>16<br>15<br>14<br>13<br>14<br>13<br>14</div><div class="t" style="top:517.37px;right:368.48px;font-size:9.33px;line-height:11.196px;-webkit-text-stroke:0.3px #000">19</div><div class="t" style="top:517.37px;right:348.28px;font-size:9.33px;line-height:11.196px;-webkit-text-stroke:0.3px #000">13</div><div class="t" style="top:517.37px;right:328.18px;font-size:9.33px;line-height:11.196px;-webkit-text-stroke:0.3px #000">16</div><div class="t" style="top:32.44px;left:761.11px;font-size:12px;line-height:14.4px;font-weight:bold">Okt</div><div class="c d" style="top:48.09px;right:308.89px;font-size:10px;color:#666">1<br>2<br>3<br>4<br>5<br>6<br>7<br>8<br>9<br>10<br>11<br>12<br>13<br>14<br>15<br>16<br>17<br>18<br>19<br>20<br>21<br>22<br>23<br>24<br>25<br>26<br>27<br>28<br>29<br>30<br>31</div><div class="c" style="top:48.14px;right:287.59px;font-size:11px">15<br>15<br>14<br>14<br>16<br>16<br>13<br>13<br>12<br>12<br>11<br>12<br>15<br>12<br>11<br>13<br>14<br>14<br>12<br>16<br>19<br>20<br>18<br>15<br>14<br>14<br>13<br>19<br>16<br>11<br>12</div><div class="c" style="top:48.14px;right:267.39px;font-size:11px">8<br>12<br>10<br>5<br>11<br>7<br>9<br>6<br>9<br>6<br>7<br>8<br>11<br>7<br>6<br>5<br>12<br>10<br>8<br>7<br>9<br>13<br>13<br>11<br>9<br>10<br>6<br>9<br>9<br>9<br>8</div><div class="c" style="top:48.14px;right:247.29px;font-size:11px">12<br>13<br>11<br>11<br>13<br>11<br>10<br>11<br>10<br>8,8<br>9,5<br>10<br>13<br>9,4<br>9,7<br>9,5<br>13<br>12<br>9,1<br>11<br>14<br>17<br>15<br>13<br>12<br>12<br>9,7<br>13<br>12<br>11<br>10</div><div class="t" style="top:517.37px;right:288.09px;font-size:9.33px;line-height:11.196px;-webkit-text-stroke:0.3px #000">14</div><div class="t" style="top:517.37px;right:267.89px;font-size:9.33px;line-height:11.196px;-webkit-text-stroke:0.3px #000">9</div><div class="t" style="top:517.37px;right:247.79px;font-size:9.33px;line-height:11.196px;-webkit-text-stroke:0.3px #000">11</div><div class="t" style="top:32.44px;left:841.50px;font-size:12px;line-height:14.4px;font-weight:bold">Nov</div><div class="c d" style="top:48.09px;right:228.50px;font-size:10px;color:#666">1<br>2<br>3<br>4<br>5<br>6<br>7<br>8<br>9<br>10<br>11<br>12<br>13<br>14<br>15<br>16<br>17<br>18<br>19<br>20<br>21<br>22<br>23<br>24<br>25<br>26<br>27<br>28<br>29<br>30</div><div class="c" style="top:48.14px;right:207.20px;font-size:11px">13<br>13<br>10<br>11<br>10<br>10<br>10<br>9<br>9<br>9<br>13<br>9<br>7<br>11<br>10<br>8<br>6<br>5<br>3<br>1<br>1<br>6<br>5<br>2<br>1<br>6<br>7<br>7<br>2<br>6</div><div class="c" style="top:48.14px;right:187.00px;font-size:11px">5<br>6<br>7<br>6<br>5<br>2<br>7<br>3<br>4<br>2<br>6<br>3<br>2<br>3<br>7<br>3<br>-1<br>-2<br>-1<br>-3<br>-3<br>-1<br>0<br>-2<br>-2<br>-2<br>-2<br>1<br>-2<br>-2</div><div class="c" style="top:48.14px;right:166.90px;font-size:11px">9<br>9<br>9<br>9<br>7<br>7<br>9<br>5<br>7<br>6<br>9<br>6<br>4<br>7<br>8<br>5<br>3<br>2<br>1<br>-2<br>0<br>4<br>3<br>0<br>-1<br>4<br>4<br>4<br>0<br>2</div><div class="t" style="top:517.37px;right:207.70px;font-size:9.33px;line-height:11.196px;-webkit-text-stroke:0.3px #000">7</div><div class="t" style="top:517.37px;right:187.50px;font-size:9.33px;line-height:11.196px;-webkit-text-stroke:0.3px #000">2</div><div class="t" style="top:517.37px;right:167.40px;font-size:9.33px;line-height:11.196px;-webkit-text-stroke:0.3px #000">5</div><div class="t" style="top:32.44px;left:921.89px;font-size:12px;line-height:14.4px;font-weight:bold">Dez</div><div class="c d" style="top:48.09px;right:148.11px;font-size:10px;color:#666">1<br>2<br>3<br>4<br>5<br>6<br>7<br>8<br>9<br>10<br>11<br>12<br>13<br>14<br>15<br>16<br>17<br>18<br>19<br>20<br>21<br>22<br>23<br>24<br>25<br>26<br>27<br>28<br>29<br>30<br>31</div><div class="c" style="top:48.14px;right:126.81px;font-size:11px">3<br>1<br>4<br>6<br>5<br>8<br>8<br>6<br>6<br>0<br>4<br>2<br>1<br>1<br>6<br>2<br>11<br>11<br>12<br>6<br>14<br>12<br>9<br>7<br>7<br>6<br>2<br>-1<br>0<br>-1<br>0</div><div class="c" style="top:48.14px;right:106.61px;font-size:11px">-3<br>-5<br>-3<br>2<br>-2<br>1<br>4<br>0<br>-1<br>-5<br>0<br>-3<br>0<br>-1<br>0<br>-2<br>0<br>8<br>4<br>0<br>5<br>8<br>4<br>4<br>5<br>1<br>-1<br>-2<br>-2<br>-3<br>-1</div><div class="c" style="top:48.14px;right:86.51px;font-size:11px">-1<br>-3<br>2<br>5<br>2<br>5<br>5<br>5<br>1<br>-3<br>3<br>0<br>1<br>0<br>2<br>0<br>9<br>9<br>9<br>3<br>11<br>10<br>6<br>6<br>6<br>3<br>0<br>-1<br>-1<br>-1<br>0</div><div class="t" style="top:517.37px;right:127.31px;font-size:9.33px;line-height:11.196px;-webkit-text-stroke:0.3px #000">5</div><div class="t" style="top:517.37px;right:107.11px;font-size:9.33px;line-height:11.196px;-webkit-text-stroke:0.3px #000">0</div><div class="t" style="top:517.37px;right:87.01px;font-size:9.33px;line-height:11.196px;-webkit-text-stroke:0.3px #000">3</div><div class="t" style="top:561.69px;right:938.40px;font-size:11px;line-height:13.2px">40</div><div class="t" style="top:591.69px;right:938.40px;font-size:11px;line-height:13.2px">30</div><div class="t" style="top:620.69px;right:938.40px;font-size:11px;line-height:13.2px">20</div><div class="t" style="top:650.69px;right:938.40px;font-size:11px;line-height:13.2px">10</div><div class="t" style="top:680.69px;right:938.40px;font-size:11px;line-height:13.2px">0</div><div class="t" style="top:709.69px;right:938.40px;font-size:11px;line-height:13.2px">-10</div><div class="t" style="top:739.69px;right:938.40px;font-size:11px;line-height:13.2px">-20</div><div class="t" style="top:542.19px;left:44.50px;font-size:20.4px;line-height:24.48px;font-weight:bold">1989</div><div class="t" style="top:549.44px;left:157.60px;font-size:12px;line-height:14.4px;font-weight:bold">Jan</div><div class="t" style="top:549.44px;left:224.90px;font-size:12px;line-height:14.4px;font-weight:bold">Feb</div><div class="t" style="top:549.44px;left:278.30px;font-size:12px;line-height:14.4px;font-weight:bold">Mrz</div><div class="t" style="top:549.44px;left:348.20px;font-size:12px;line-height:14.4px;font-weight:bold">Apr</div><div class="t" style="top:549.44px;left:420.00px;font-size:12px;line-height:14.4px;font-weight:bold">Mai</div><div class="t" style="top:549.44px;left:479.60px;font-size:12px;line-height:14.4px;font-weight:bold">Jun</div><div class="t" style="top:549.44px;left:539.80px;font-size:12px;line-height:14.4px;font-weight:bold">Jul</div><div class="t" style="top:549.44px;left:606.80px;font-size:12px;line-height:14.4px;font-weight:bold">Aug</div><div class="t" style="top:549.44px;left:671.20px;font-size:12px;line-height:14.4px;font-weight:bold">Sep</div><div class="t" style="top:549.44px;left:741.10px;font-size:12px;line-height:14.4px;font-weight:bold">Okt</div><div class="t" style="top:549.44px;left:801.10px;font-size:12px;line-height:14.4px;font-weight:bold">Nov</div><div class="t" style="top:549.44px;left:862.50px;font-size:12px;line-height:14.4px;font-weight:bold">Dez</div><div class="t" style="top:582.62px;left:38.00px;font-size:11.5px;line-height:13.8px;font-weight:bold">Jahresmittelwert</div><div class="t" style="top:600.95px;right:1010.50px;font-size:10.2px;line-height:12.24px;font-weight:bold">Max</div><div class="t" style="top:613.97px;right:1010.50px;font-size:10.6px;line-height:12.72px;-webkit-text-stroke:0.2px #000">13,453</div><div class="t" style="top:633.15px;right:1010.50px;font-size:10.2px;line-height:12.24px;font-weight:bold">Min</div><div class="t" style="top:646.17px;right:1010.50px;font-size:10.6px;line-height:12.72px;-webkit-text-stroke:0.2px #000">7,218</div><div class="t" style="top:665.65px;right:1010.50px;font-size:10.2px;line-height:12.24px;font-weight:bold">Mittel</div><div class="t" style="top:678.97px;right:1010.50px;font-size:10.6px;line-height:12.72px;-webkit-text-stroke:0.2px #000">10,051</div><div class="t" style="top:747.80px;left:38.30px;font-size:10.67px;line-height:12.804px;letter-spacing:-0.17px;-webkit-text-stroke:0.15px #000">Erstellt und bearbeitet mit LibreOffice-Calc</div><div class="t" style="top:747.60px;left:682.00px;font-size:10.67px;line-height:12.804px;letter-spacing:-0.17px;-webkit-text-stroke:0.15px #000">Erstellt von:</div><div class="t" style="top:747.60px;left:756.30px;font-size:10.67px;line-height:12.804px;color:#5a00cc;letter-spacing:-0.11px;-webkit-text-stroke:0.15px #5a00cc">© mein-bilderarchiv.de</div><div class="t" style="top:747.60px;left:921.20px;font-size:10.67px;line-height:12.804px;letter-spacing:-0.17px;-webkit-text-stroke:0.15px #000;letter-spacing:-0.24px">15.02.21</div>
</body></html>
